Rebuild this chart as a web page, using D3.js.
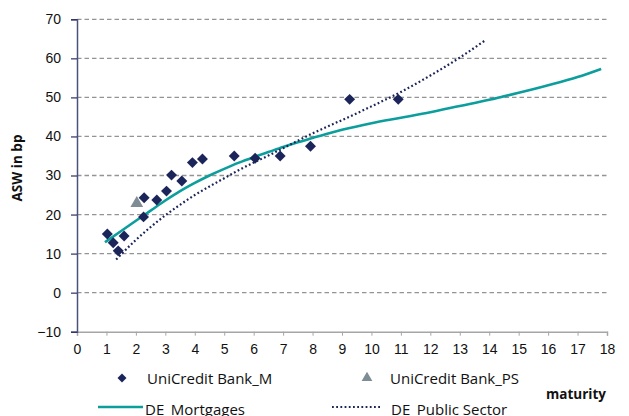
<!DOCTYPE html>
<html>
<head>
<meta charset="utf-8">
<script src="https://cdn.jsdelivr.net/npm/d3@7"></script>
<style>
  body { margin: 0; background: #fff; }
  svg { display: block; font-family: "Open Sans", sans-serif; }
</style>
</head>
<body>
<script>
// UniCredit Bank_M (maturity, ASW)
const bankM_maturity = [1.03, 1.23, 1.40, 1.60, 2.26, 2.28, 2.71, 3.04, 3.21, 3.56, 3.92, 4.26, 5.34, 6.05, 6.90, 7.93, 9.26, 10.91];
const bankM_asw      = [15.0, 12.8, 10.7, 14.5, 19.4, 24.3, 23.7, 26.0, 30.1, 28.6, 33.3, 34.2, 35.0, 34.4, 35.0, 37.5, 49.5, 49.5];

// UniCredit Bank_PS
const bankPS_maturity = [2.03];
const bankPS_asw      = [22.9];

// DE Mortgages curve
const mort_maturity = [0.95, 1.5, 2, 2.5, 3, 3.5, 4, 4.5, 5, 5.5, 6, 6.5, 7, 7.5, 8, 8.5, 9, 10, 11, 12, 13, 14, 15, 16, 17, 17.8];
const mort_asw      = [12.9, 15.8, 18.4, 21.0, 23.6, 26.0, 28.1, 30.0, 31.7, 33.3, 34.7, 36.0, 37.3, 38.5, 39.6, 40.7, 41.7, 43.4, 44.8, 46.2, 47.8, 49.4, 51.2, 53.1, 55.2, 57.3];

// DE Public Sector curve
const pub_maturity = [1.33, 2, 2.5, 3, 3.5, 4, 4.5, 5, 5.5, 6, 6.5, 7, 7.5, 8, 8.5, 9, 10, 11, 12, 13, 13.88];
const pub_asw      = [8.5, 13.5, 16.8, 19.8, 22.5, 25.0, 27.2, 29.3, 31.4, 33.3, 35.1, 37.0, 38.9, 40.8, 42.5, 44.2, 47.7, 51.4, 55.6, 60.2, 64.7];

const xTicks = d3.range(0, 19, 1);
const yTicks = d3.range(-10, 71, 10);

const W = 629, H = 416;
const margin = { top: 19.3, right: 22, bottom: 84.3, left: 77 };
const width = W - margin.left - margin.right;
const height = H - margin.top - margin.bottom;

const navy = "#1c2559";
const teal = "#0b9e9c";
const grey = "#7d8c95";

const svg = d3.select("body").append("svg")
  .attr("width", W)
  .attr("height", H);

const g = svg.append("g")
  .attr("transform", `translate(${margin.left},${margin.top})`);

const x = d3.scaleLinear().domain([0, 18]).range([0, width]);
const y = d3.scaleLinear().domain([-10, 70]).range([height, 0]);

// gridlines
g.append("g")
  .selectAll("line")
  .data(yTicks.filter(d => d > -10))
  .enter().append("line")
  .attr("x1", 0)
  .attr("x2", width)
  .attr("y1", d => y(d))
  .attr("y2", d => y(d))
  .attr("stroke", "#949494")
  .attr("stroke-width", 1.3)
  .attr("stroke-dasharray", "4.5,3");

// x axis
const xAxis = g.append("g")
  .attr("transform", `translate(0,${height})`)
  .call(d3.axisBottom(x).tickValues(xTicks).tickSize(4).tickPadding(8).tickFormat(d3.format("d")));
xAxis.select(".domain").attr("stroke", "#a6a6a6").attr("stroke-width", 1.5);
xAxis.selectAll(".tick line").attr("stroke", "#a6a6a6");
xAxis.selectAll("text").attr("font-size", 14).attr("fill", "#111");

// y axis
const yAxis = g.append("g")
  .call(d3.axisLeft(y).tickValues(yTicks).tickSize(6).tickPadding(10).tickFormat(d3.format("d")));
yAxis.select(".domain").attr("stroke", "#4a527e").attr("stroke-width", 1.5);
yAxis.selectAll(".tick line").attr("stroke", "#2a3160").attr("stroke-width", 1.2);
yAxis.selectAll("text").attr("font-size", 14).attr("fill", "#111");

// curves
const mortData = mort_maturity.map((m, i) => [m, mort_asw[i]]);
const pubData = pub_maturity.map((m, i) => [m, pub_asw[i]]);

const line = d3.line()
  .x(d => x(d[0]))
  .y(d => y(d[1]))
  .curve(d3.curveMonotoneX);

g.append("path")
  .datum(mortData)
  .attr("fill", "none")
  .attr("stroke", teal)
  .attr("stroke-width", 2.6)
  .attr("d", line);

g.append("path")
  .datum(pubData)
  .attr("fill", "none")
  .attr("stroke", navy)
  .attr("stroke-width", 2.2)
  .attr("stroke-dasharray", "1.8,2.4")
  .attr("d", line);

// points
const diamond = d3.symbol().type(d3.symbolSquare).size(60);
g.selectAll(".ptM")
  .data(bankM_maturity.map((m, i) => [m, bankM_asw[i]]))
  .enter().append("path")
  .attr("class", "ptM")
  .attr("d", diamond)
  .attr("transform", d => `translate(${x(d[0])},${y(d[1])}) rotate(45)`)
  .attr("fill", navy);

const tri = d3.symbol().type(d3.symbolTriangle).size(70);
g.selectAll(".ptPS")
  .data(bankPS_maturity.map((m, i) => [m, bankPS_asw[i]]))
  .enter().append("path")
  .attr("class", "ptPS")
  .attr("d", tri)
  .attr("transform", d => `translate(${x(d[0])},${y(d[1])})`)
  .attr("fill", grey);

// axis titles
svg.append("text")
  .attr("transform", "translate(22,168) rotate(-90)")
  .attr("text-anchor", "middle")
  .attr("font-size", 13.5)
  .attr("font-weight", "bold")
  .attr("fill", "#111")
  .text("ASW in bp");

svg.append("text")
  .attr("x", 606)
  .attr("y", 399)
  .attr("text-anchor", "end")
  .attr("font-size", 13.5)
  .attr("font-weight", "bold")
  .attr("fill", "#111")
  .text("maturity");

// legend
const legend = svg.append("g").attr("font-size", 15).attr("fill", "#111");

legend.append("path")
  .attr("d", d3.symbol().type(d3.symbolSquare).size(40))
  .attr("transform", "translate(122,378) rotate(45)")
  .attr("fill", navy);
legend.append("text").attr("x", 147).attr("y", 384).text("UniCredit Bank_M");

legend.append("path")
  .attr("d", d3.symbol().type(d3.symbolTriangle).size(50))
  .attr("transform", "translate(367,378)")
  .attr("fill", grey);
legend.append("text").attr("x", 390).attr("y", 384).text("UniCredit Bank_PS");

legend.append("line")
  .attr("x1", 98).attr("x2", 143).attr("y1", 407).attr("y2", 407)
  .attr("stroke", teal).attr("stroke-width", 2.6);
legend.append("text").attr("x", 145).attr("y", 414.5).text("DE_Mortgages");

legend.append("line")
  .attr("x1", 332).attr("x2", 380).attr("y1", 407).attr("y2", 407)
  .attr("stroke", navy).attr("stroke-width", 2).attr("stroke-dasharray", "1.8,2.4");
legend.append("text").attr("x", 391).attr("y", 414.5).text("DE_Public Sector");
</script>
</body>
</html>
